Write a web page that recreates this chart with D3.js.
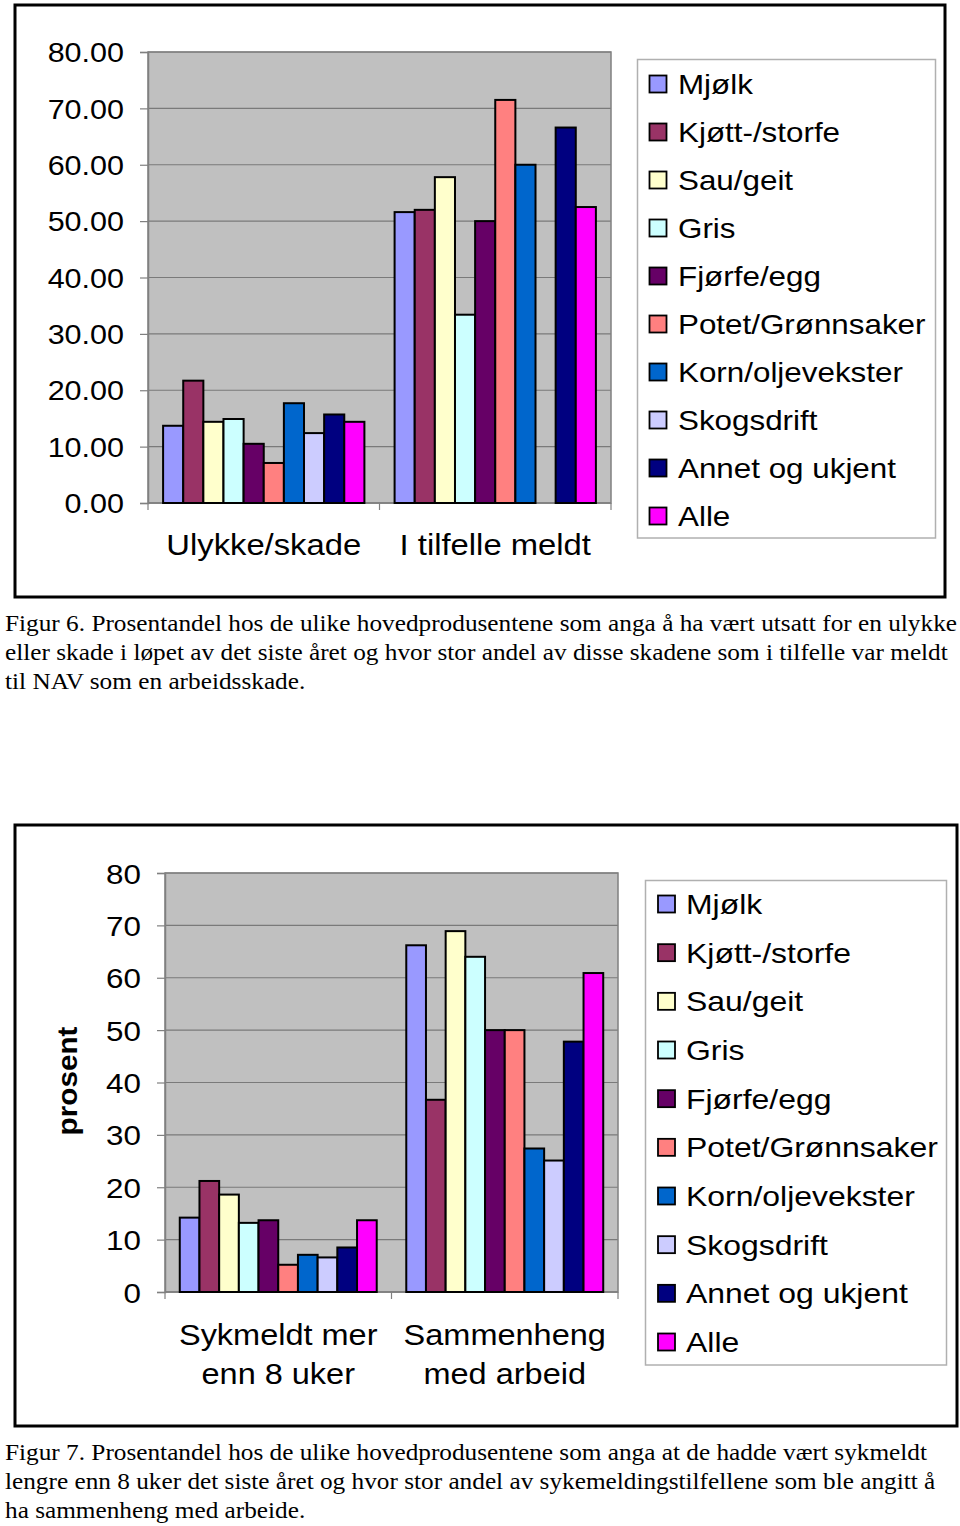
<!DOCTYPE html>
<html>
<head>
<meta charset="utf-8">
<script src="https://cdn.jsdelivr.net/npm/d3@7"></script>
<style>
  html, body { margin: 0; padding: 0; background: #fff; }
  svg { display: block; }
</style>
</head>
<body>
<svg id="chart" width="960" height="1526"></svg>
<script>
// ---------------- DATA ----------------
const seriesNames = ["Mjølk", "Kjøtt-/storfe", "Sau/geit", "Gris", "Fjørfe/egg",
  "Potet/Grønnsaker", "Korn/oljevekster", "Skogsdrift", "Annet og ukjent", "Alle"];
const seriesColors = ["#9999FF", "#993366", "#FFFFCC", "#CCFFFF", "#660066",
  "#FF8080", "#0066CC", "#CCCCFF", "#000080", "#FF00FF"];

// Figure 6
const fig6Categories = ["Ulykke/skade", "I tilfelle meldt"];
const fig6Ulykke = [13.7, 21.7, 14.4, 14.9, 10.5, 7.1, 17.7, 12.4, 15.7, 14.4];
const fig6Meldt  = [51.6, 52.0, 57.8, 33.4, 50.0, 71.5, 60.0, null, 66.6, 52.5];
const fig6Ticks  = [0, 10, 20, 30, 40, 50, 60, 70, 80];

// Figure 7
const fig7Categories = [["Sykmeldt mer", "enn 8 uker"], ["Sammenheng", "med arbeid"]];
const fig7Sykmeldt     = [14.2, 21.2, 18.6, 13.2, 13.7, 5.2, 7.1, 6.6, 8.5, 13.7];
const fig7Sammenheng   = [66.2, 36.7, 68.9, 64.0, 50.0, 50.0, 27.4, 25.1, 47.8, 60.9];
const fig7Ticks  = [0, 10, 20, 30, 40, 50, 60, 70, 80];
const fig7YLabel = "prosent";

const fig6Caption = [
  "Figur 6. Prosentandel hos de ulike hovedprodusentene som anga å ha vært utsatt for en ulykke",
  "eller skade i løpet av det siste året og hvor stor andel av disse skadene som i tilfelle var meldt",
  "til NAV som en arbeidsskade."
];
const fig7Caption = [
  "Figur 7. Prosentandel hos de ulike hovedprodusentene som anga at de hadde vært sykmeldt",
  "lengre enn 8 uker det siste året og hvor stor andel av sykemeldingstilfellene som ble angitt å",
  "ha sammenheng med arbeide."
];

// ---------------- DRAWING ----------------
const svg = d3.select("#chart");
svg.append("rect").attr("width", 960).attr("height", 1526).attr("fill", "#fff");

const SANS = "'Liberation Sans', Arial, sans-serif";
const SERIF = "'Liberation Serif', 'Times New Roman', Times, serif";

function stretch(sel, k) {
  sel.each(function () {
    const l = this.getComputedTextLength();
    this.setAttribute("textLength", l * k);
    this.setAttribute("lengthAdjust", "spacingAndGlyphs");
  });
}

function drawChart(cfg) {
  const g = svg.append("g");
  // outer frame
  g.append("rect")
    .attr("x", cfg.frame[0]).attr("y", cfg.frame[1])
    .attr("width", cfg.frame[2] - cfg.frame[0]).attr("height", cfg.frame[3] - cfg.frame[1])
    .attr("fill", "#fff").attr("stroke", "#000").attr("stroke-width", 3);

  const [pl, pt, pr, pb] = cfg.plot;
  const y = d3.scaleLinear().domain([0, 80]).range([pb, pt]);
  const x0 = d3.scaleBand().domain(d3.range(cfg.categories.length)).range([pl, pr]).padding(0);
  const bw = x0.bandwidth();
  const gap = bw / 11.5 * 1.5;
  const x1 = d3.scaleBand().domain(d3.range(seriesNames.length)).range([gap / 2, bw - gap / 2]).padding(0);

  // plot area
  g.append("rect").attr("x", pl).attr("y", pt).attr("width", pr - pl).attr("height", pb - pt)
    .attr("fill", "#C0C0C0");
  // gridlines
  g.append("g").selectAll("line").data(cfg.ticks).join("line")
    .attr("x1", pl).attr("x2", pr)
    .attr("y1", d => y(d)).attr("y2", d => y(d))
    .attr("stroke", "#7a7a7a").attr("stroke-width", 1.2);
  // plot border
  g.append("rect").attr("x", pl).attr("y", pt).attr("width", pr - pl).attr("height", pb - pt)
    .attr("fill", "none").attr("stroke", "#808080").attr("stroke-width", 1.5);

  // y axis
  const yAxis = d3.axisLeft(y).tickValues(cfg.ticks).tickSize(8).tickPadding(16)
    .tickFormat(cfg.tickFormat);
  const ya = g.append("g").attr("transform", `translate(${pl},0)`).call(yAxis);
  ya.select(".domain").attr("stroke", "#808080").attr("stroke-width", 1.5);
  ya.selectAll(".tick line").attr("stroke", "#808080").attr("stroke-width", 1.2);
  ya.selectAll(".tick text").attr("font-family", SANS).attr("font-size", cfg.tickFont)
    .attr("fill", "#000").attr("dy", "0.36em").call(stretch, cfg.kx);

  // x axis ticks
  const bounds = cfg.categories.map((c, i) => x0(i)).concat([pr]);
  g.append("g").selectAll("line").data(bounds).join("line")
    .attr("x1", d => d).attr("x2", d => d).attr("y1", pb).attr("y2", pb + 7)
    .attr("stroke", "#808080").attr("stroke-width", 1.2);
  g.append("line").attr("x1", pl).attr("x2", pr).attr("y1", pb).attr("y2", pb)
    .attr("stroke", "#808080").attr("stroke-width", 1.5);

  // bars
  cfg.values.forEach((vals, ci) => {
    g.append("g").attr("transform", `translate(${x0(ci)},0)`)
      .selectAll("rect").data(vals.map((v, si) => ({ v, si })).filter(d => d.v != null))
      .join("rect")
      .attr("x", d => x1(d.si)).attr("width", x1.bandwidth())
      .attr("y", d => y(d.v)).attr("height", d => y(0) - y(d.v))
      .attr("fill", d => seriesColors[d.si])
      .attr("stroke", "#000").attr("stroke-width", 2);
  });

  // category labels
  cfg.categories.forEach((c, i) => {
    const lines = Array.isArray(c) ? c : [c];
    lines.forEach((ln, li) => {
      g.append("text").attr("x", x0(i) + bw / 2).attr("y", cfg.catY + li * cfg.catLH)
        .attr("text-anchor", "middle").attr("font-family", SANS)
        .attr("font-size", cfg.catFont).attr("fill", "#000").text(ln)
        .call(stretch, cfg.kx);
    });
  });

  // y label
  if (cfg.yLabel) {
    g.append("text").attr("transform", `translate(${cfg.yLabelPos[0]},${cfg.yLabelPos[1]}) rotate(-90)`)
      .attr("text-anchor", "middle").attr("font-family", SANS).attr("font-weight", "bold")
      .attr("font-size", 27).attr("fill", "#000").text(cfg.yLabel)
      .call(stretch, 1.1);
  }

  // legend
  const [lx0, ly0, lx1, ly1] = cfg.legend;
  g.append("rect").attr("x", lx0).attr("y", ly0).attr("width", lx1 - lx0).attr("height", ly1 - ly0)
    .attr("fill", "#fff").attr("stroke", "#b0b0b0").attr("stroke-width", 1.5);
  const ly = d3.scalePoint().domain(d3.range(seriesNames.length)).range(cfg.legendRows);
  const items = g.append("g").selectAll("g").data(seriesNames).join("g")
    .attr("transform", (d, i) => `translate(0,${ly(i)})`);
  items.append("rect").attr("x", cfg.swatchX).attr("y", -8.5).attr("width", 17).attr("height", 17)
    .attr("fill", (d, i) => seriesColors[i]).attr("stroke", "#000").attr("stroke-width", 1.8);
  items.append("text").attr("x", cfg.legendTextX).attr("y", 10)
    .attr("font-family", SANS).attr("font-size", cfg.legendFont).attr("fill", "#000").text(d => d)
    .call(stretch, 1.12);

  // caption
  let kCap = null;
  cfg.caption.forEach((ln, i) => {
    const t = svg.append("text").attr("x", 5).attr("y", cfg.captionY + i * 29)
      .attr("font-family", SERIF).attr("font-size", 23).attr("fill", "#000").text(ln);
    if (kCap === null) kCap = cfg.captionW / t.node().getComputedTextLength();
    t.call(stretch, kCap);
  });
}

drawChart({
  frame: [15, 5, 945, 597],
  plot: [148, 52, 611, 503],
  categories: fig6Categories,
  values: [fig6Ulykke, fig6Meldt],
  ticks: fig6Ticks,
  tickFormat: d3.format(".2f"),
  tickFont: 27,
  kx: 1.13,
  catFont: 29,
  catY: 555,
  catLH: 38,
  legend: [637.5, 59.5, 935.5, 538],
  legendRows: [84, 516],
  swatchX: 649.5,
  legendTextX: 678,
  legendFont: 28,
  caption: fig6Caption,
  captionY: 631,
  captionW: 952
});

drawChart({
  frame: [15, 825, 957, 1426],
  plot: [165, 873, 618, 1292],
  categories: fig7Categories,
  values: [fig7Sykmeldt, fig7Sammenheng],
  ticks: fig7Ticks,
  tickFormat: d3.format("d"),
  tickFont: 28,
  kx: 1.12,
  catFont: 29,
  catY: 1345,
  catLH: 38.5,
  yLabel: fig7YLabel,
  yLabelPos: [77, 1081],
  legend: [645.5, 880.5, 946.5, 1365],
  legendRows: [904, 1342],
  swatchX: 658,
  legendTextX: 686,
  legendFont: 28.5,
  caption: fig7Caption,
  captionY: 1460,
  captionW: 922
});
</script>
</body>
</html>
